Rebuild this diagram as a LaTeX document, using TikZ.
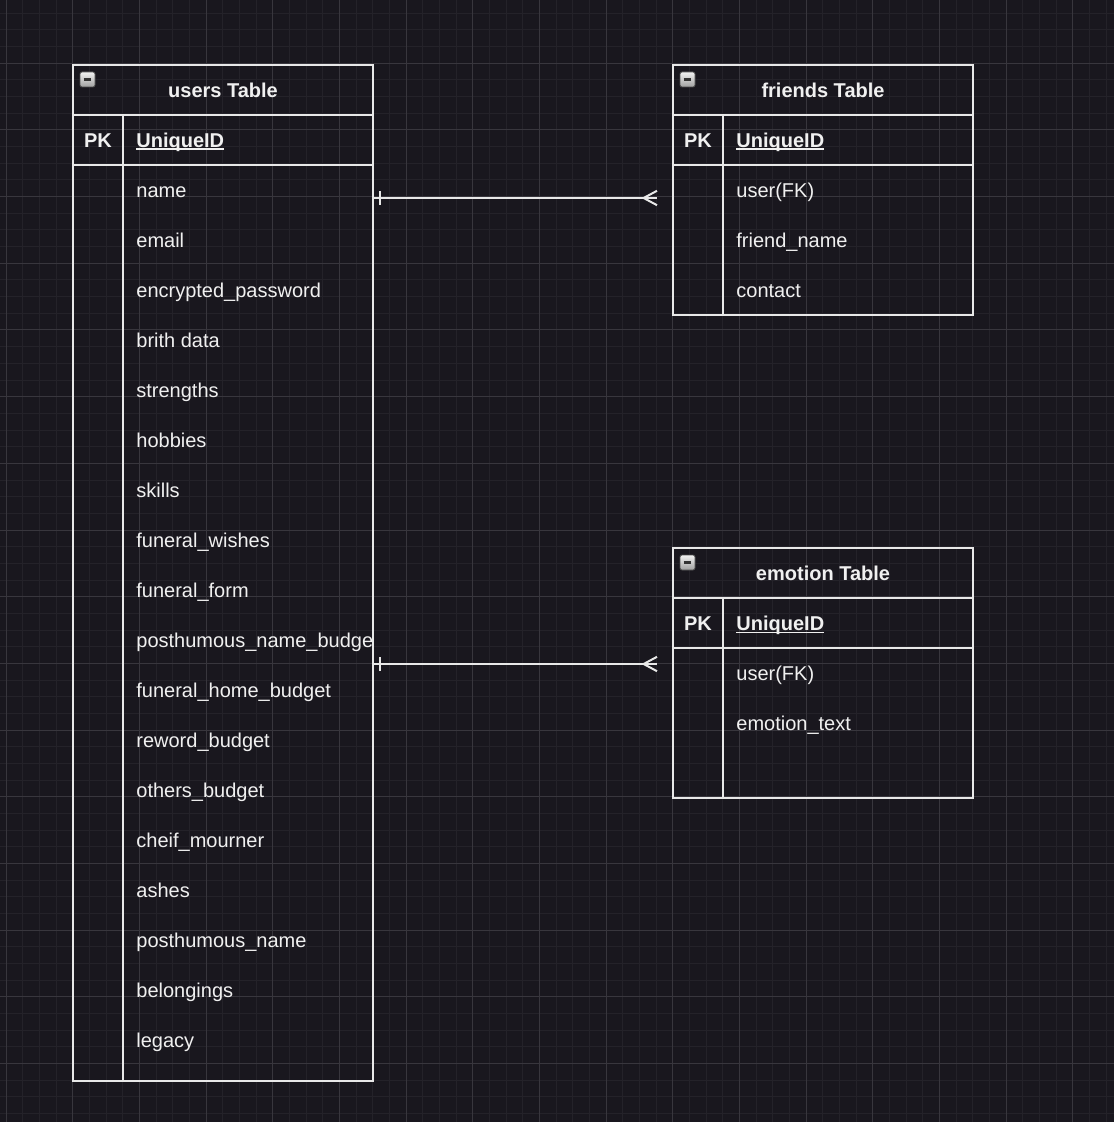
\documentclass[tikz,border=0pt]{standalone}
\usepackage{fontspec}
\setmainfont{Liberation Sans}
\usetikzlibrary{calc,decorations.markings}
\definecolor{bgcol}{RGB}{25,23,30}
\definecolor{gridmin}{RGB}{36,34,41}
\definecolor{gridmaj}{RGB}{56,54,61}
\definecolor{linecol}{RGB}{232,232,232}
\definecolor{textcol}{RGB}{240,240,240}
\tikzset{
  tblbox/.style ={draw=linecol, line width=1pt, minimum width=150pt, inner sep=0pt,
                  outer sep=0pt, anchor=north west},
  tblline/.style={draw=linecol, line width=1pt},
  hdr/.style    ={font=\bfseries, text=textcol, inner sep=0pt, anchor=base},
  pk/.style     ={font=\bfseries, text=textcol, inner sep=0pt, anchor=base},
  fld/.style    ={text=textcol, inner sep=0pt, anchor=base west},
  minbtn/.style ={draw=black!70, rounded corners=1pt, minimum size=7.5pt, inner sep=0pt,
                  top color=white!90!gray, bottom color=gray!75,
                  path picture={\draw[black!80, line width=1.1pt]
                    ($(path picture bounding box.west)+(1.8pt,0)$) --
                    ($(path picture bounding box.east)+(-1.8pt,0)$);}},
  onemany/.style={tblline, postaction={decorate}, decoration={markings,
                  mark=at position 3.5pt with {\draw[tblline] (0,-3.5pt) -- (0,3.5pt);},
                  mark=at position 1 with {\draw[tblline] (0,3.6pt) -- (-6.7pt,0) -- (0,-3.6pt);}}},
}
\newcommand{\pkul}[1]{\setbox0=\hbox{#1}\rlap{\rule[-1.3pt]{\wd0}{0.8pt}}#1}

\begin{document}
\begin{tikzpicture}[x=0.5pt, y=-0.5pt]
\useasboundingbox (0,0) rectangle (1114,1122);
\fill[bgcol] (0,0) rectangle (1114,1122);
% grid
\foreach \i in {0,...,66} {
  \draw[gridmin, line width=0.5pt] ({6+16.6667*\i},0) -- ({6+16.6667*\i},1122);
  \draw[gridmin, line width=0.5pt] (0,{13.3333+16.6667*\i}) -- (1114,{13.3333+16.6667*\i});
}
\foreach \i in {0,...,16} {
  \draw[gridmaj, line width=0.5pt] ({6+66.6667*\i},0) -- ({6+66.6667*\i},1122);
}
\foreach \i in {1,...,16} {
  \draw[gridmaj, line width=0.5pt] (0,{-3.3333+66.6667*\i}) -- (1114,{-3.3333+66.6667*\i});
}

% users table
\node[tblbox, minimum height=508pt] (users) at (73,65) {};
\node[minbtn] (users-btn) at ($(users.north west)+(14.5,14.5)$) {};
\node[hdr] (users-title) at ($(users.north)+(0,32.5)$) {users Table};
\node[pk] (users-pk) at ($(users.north west)+(25,82.5)$) {PK};
\node[fld, font=\bfseries] (users-id) at ($(users.north west)+(63,82.5)$) {\pkul{UniqueID}};
\begin{scope}
\clip ($(users.north west)+(0,50)$) rectangle ($(users.south east)+(-1,0)$);
\foreach \f [count=\i from 0] in {name, email, encrypted\_password, brith data, strengths,
    hobbies, skills, funeral\_wishes, funeral\_form, posthumous\_name\_budget,
    funeral\_home\_budget, reword\_budget, others\_budget, cheif\_mourner, ashes,
    posthumous\_name, belongings, legacy}
  \node[fld] (users-f\i) at ($(users.north west)+(63,132.5+50*\i)$) {\f};
\end{scope}
\draw[tblline] ($(users.north west)+(0,50)$) -- ++(300,0);
\draw[tblline] ($(users.north west)+(0,100)$) -- ++(300,0);
\draw[tblline] ($(users.north west)+(50,50)$) -- ($(users.south west)+(50,0)$);

% friends table
\node[tblbox, minimum height=125pt] (friends) at (673,65) {};
\node[minbtn] (friends-btn) at ($(friends.north west)+(14.5,14.5)$) {};
\node[hdr] (friends-title) at ($(friends.north)+(0,32.5)$) {friends Table};
\node[pk] (friends-pk) at ($(friends.north west)+(25,82.5)$) {PK};
\node[fld, font=\bfseries] (friends-id) at ($(friends.north west)+(63,82.5)$) {\pkul{UniqueID}};
\foreach \f [count=\i from 0] in {user(FK), friend\_name, contact}
  \node[fld] (friends-f\i) at ($(friends.north west)+(63,132.5+50*\i)$) {\f};
\draw[tblline] ($(friends.north west)+(0,50)$) -- ++(300,0);
\draw[tblline] ($(friends.north west)+(0,100)$) -- ++(300,0);
\draw[tblline] ($(friends.north west)+(50,50)$) -- ($(friends.south west)+(50,0)$);

% emotion table
\node[tblbox, minimum height=125pt] (emotion) at (673,548) {};
\node[minbtn] (emotion-btn) at ($(emotion.north west)+(14.5,14.5)$) {};
\node[hdr] (emotion-title) at ($(emotion.north)+(0,32.5)$) {emotion Table};
\node[pk] (emotion-pk) at ($(emotion.north west)+(25,82.5)$) {PK};
\node[fld, font=\bfseries] (emotion-id) at ($(emotion.north west)+(63,82.5)$) {\pkul{UniqueID}};
\foreach \f [count=\i from 0] in {user(FK), emotion\_text}
  \node[fld] (emotion-f\i) at ($(emotion.north west)+(63,132.5+50*\i)$) {\f};
\draw[tblline] ($(emotion.north west)+(0,50)$) -- ++(300,0);
\draw[tblline] ($(emotion.north west)+(0,100)$) -- ++(300,0);
\draw[tblline] ($(emotion.north west)+(50,50)$) -- ($(emotion.south west)+(50,0)$);

% relations
\draw[onemany] ($(users.north east)+(0,133)$) -- ($(friends.north west)+(-16,133)$);
\draw[onemany] ($(users.north east)+(0,599)$) -- ($(emotion.north west)+(-16,116)$);
\end{tikzpicture}
\end{document}
